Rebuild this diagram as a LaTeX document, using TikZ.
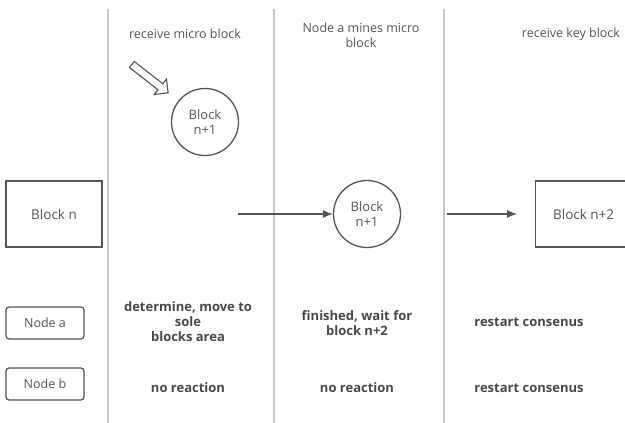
\documentclass[tikz,border=0pt]{standalone}
\usepackage{fontspec}
\setmainfont{Open Sans}
\usetikzlibrary{arrows.meta,shapes.arrows}
\definecolor{ink}{HTML}{555555}
\definecolor{sep}{HTML}{C8C8C8}
\begin{document}
\begin{tikzpicture}[x=1pt,y=-1pt,
  lane/.style={draw=sep,line width=1.2pt},
  blockbox/.style={draw=ink,line width=1.3pt,minimum width=96pt,minimum height=66pt,text=ink,font=\fontsize{13.5}{15}\selectfont},
  nodebox/.style={draw=ink,line width=1.2pt,rounded corners=3pt,minimum width=78pt,minimum height=32pt,text=ink,font=\fontsize{12.5}{15}\selectfont},
  blockcirc/.style={draw=ink,line width=1.3pt,circle,minimum size=67pt,inner sep=0pt,align=center,text=ink,font=\fontsize{13}{15}\selectfont},
  head/.style={text=ink,align=center,font=\fontsize{12.5}{15}\selectfont},
  note/.style={text=ink!85!black,align=center,font=\bfseries\fontsize{13}{15}\selectfont},
  flow/.style={draw=ink,line width=1.2pt,-{Latex[length=10pt,width=8pt]}}
]
\useasboundingbox (0,0) rectangle (625,423);
\coordinate (l1t) at (108,9); \coordinate (l1b) at (108,423);
\coordinate (l2t) at (274,9); \coordinate (l2b) at (274,423);
\coordinate (l3t) at (444,9); \coordinate (l3b) at (444,423);
\draw[lane] (l1t) -- (l1b);
\draw[lane] (l2t) -- (l2b);
\draw[lane] (l3t) -- (l3b);

\node[head] (h1) at (185,34) {receive micro block};
\node[head] (h2) at (361,35) {Node a mines micro\\block};
\node[head] (h3) at (571,34) {receive key block};

\node[blockbox] (bn) at (54,214) {Block n};
\node[blockcirc] (c1) at (205,122) {Block\\n+1};
\node[blockcirc] (c2) at (367,214) {Block\\n+1};
\node[blockbox,anchor=west] (bn2) at (535,214) {Block n+2};

\node[single arrow,draw=ink,line width=1.1pt,fill=white,minimum height=46pt,single arrow head extend=6pt,single arrow head indent=0pt,inner sep=3.3pt,rotate=-38] (ha) at (148.5,77.5) {};

\coordinate (a1s) at (238,214);
\coordinate (a2s) at (447,214);
\coordinate (a2e) at (517,214);
\draw[flow] (a1s) -- (c2);
\draw[flow] (a2s) -- (a2e);

\node[nodebox] (na) at (45,323) {Node a};
\node[nodebox] (nb) at (45,384) {Node b};

\node[note] (t1) at (188,322) {determine, move to\\sole\\blocks area};
\node[note] (t2) at (357,323.5) {finished, wait for\\block n+2};
\node[note] (t3) at (529,322) {restart consenus};
\node[note] (t4) at (188,388) {no reaction};
\node[note] (t5) at (357,388) {no reaction};
\node[note] (t6) at (529,388) {restart consenus};
\end{tikzpicture}
\end{document}
